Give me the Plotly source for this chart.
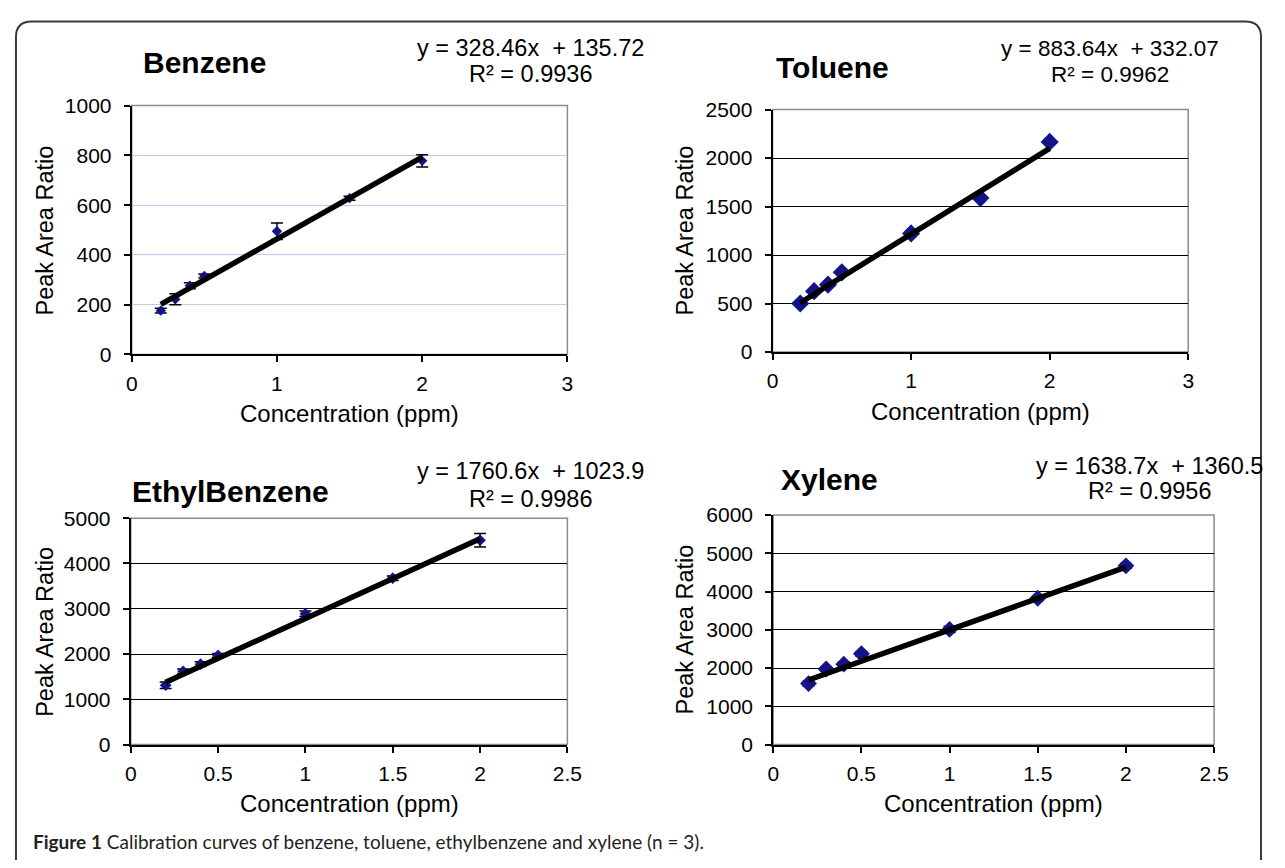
import plotly.graph_objects as go

# The page body has an 8px default margin, so the figure is drawn 8px in
# from the top-left corner; all pixel positions below are page positions.
OFF = 8
W, H = 1285 - 2 * OFF, 868 - 2 * OFF

conc = [0.2, 0.3, 0.4, 0.5, 1.0, 1.5, 2.0]

benzene = [176, 222, 276, 315, 495, 628, 778]
benzene_err = [10, 22, 12, 8, 33, 8, 25]
toluene = [501, 628, 695, 822, 1223, 1587, 2166]
toluene_err = [30, 35, 30, 30, 45, 40, 40]
ethylbenzene = [1311, 1620, 1777, 1970, 2888, 3675, 4513]
ethylbenzene_err = [70, 50, 50, 40, 60, 50, 150]
xylene = [1594, 1975, 2102, 2374, 3010, 3823, 4670]
xylene_err = [60, 60, 60, 60, 80, 60, 60]

names = ["Benzene", "Toluene", "EthylBenzene", "Xylene"]
slopes = [328.46, 883.64, 1760.6, 1638.7]
intercepts = [135.72, 332.07, 1023.9, 1360.5]
r2 = ["0.9936", "0.9962", "0.9986", "0.9956"]
eq_text = ["y = 328.46x  + 135.72", "y = 883.64x  + 332.07",
           "y = 1760.6x  + 1023.9", "y = 1638.7x  + 1360.5"]

series = [benzene, toluene, ethylbenzene, xylene]
errors = [benzene_err, toluene_err, ethylbenzene_err, xylene_err]
x_max = [3, 3, 2.5, 2.5]
x_dtick = [1, 1, 0.5, 0.5]
y_max = [1000, 2500, 5000, 6000]
y_dtick = [200, 500, 1000, 1000]

# plot areas in page pixels (left, right, top, bottom)
boxes = [(127.7, 570.7, 96, 351.7), (779.3, 1202, 100, 349.3),
         (126.7, 570.7, 520, 752.7), (780, 1228.3, 516.7, 752.7)]
grid_colors = ["#bccbea", "#000000", "#000000", "#000000"]
marker_sizes = [8, 14, 9, 13]
title_pos = [(202, 52), (840, 57), (228, 493), (837, 480)]
eq_pos = [(533, 37, 64), (1122, 37, 64), (533, 471, 500), (1163, 466, 492)]
eq_size = [23.5, 22.5, 23.5, 23.5]
ytitle_x = [40, 690, 40, 690]

FONT = "Liberation Sans, Arial, sans-serif"


def px(x):
    return (x - OFF) / W


def py(y):
    return 1 - (y - OFF) / H


fig = go.Figure()
annotations = []
shapes = []

for i in range(4):
    s = "" if i == 0 else str(i + 1)
    xa, ya = "x" + s, "y" + s
    l, r, t, b = boxes[i]
    ew = 6 if i != 1 else 4
    fig.add_trace(go.Scatter(
        x=conc, y=series[i], mode="markers", xaxis=xa, yaxis=ya,
        marker=dict(symbol="diamond", size=marker_sizes[i], color="#14148a",
                    line=dict(width=0)),
        error_y=dict(type="data", array=errors[i], visible=True,
                     color="#000000", thickness=1.5, width=ew),
        showlegend=False, hoverinfo="skip"))
    xs = [conc[0], conc[-1]]
    ys = [slopes[i] * v + intercepts[i] for v in xs]
    fig.add_trace(go.Scatter(
        x=xs, y=ys, mode="lines", xaxis=xa, yaxis=ya,
        line=dict(color="#000000", width=5.5), showlegend=False,
        hoverinfo="skip"))

    axis_font = dict(family=FONT, size=21, color="#000000")
    fig.update_layout(**{
        "xaxis" + s: dict(
            domain=[px(l), px(r)], range=[0, x_max[i]], dtick=x_dtick[i],
            anchor=ya, showgrid=False, zeroline=False, showline=True,
            linecolor="#000000", linewidth=2, ticks="outside", ticklen=6,
            tickcolor="#000000", tickwidth=1.5, tickfont=axis_font,
            ticklabelstandoff=3, fixedrange=True),
        "yaxis" + s: dict(
            domain=[py(b), py(t)], range=[0, y_max[i]], dtick=y_dtick[i],
            anchor=xa, showgrid=True, gridcolor=grid_colors[i],
            gridwidth=1.4 if i == 0 else 1.2, zeroline=False, showline=True,
            linecolor="#000000", linewidth=2, ticks="outside", ticklen=6,
            tickcolor="#000000", tickwidth=1.5, tickfont=axis_font,
            ticklabelstandoff=8, fixedrange=True),
    })
    # plot-area border (gray, top & right)
    shapes.append(dict(type="rect", xref="paper", yref="paper",
                       x0=px(l), x1=px(r), y0=py(b), y1=py(t),
                       line=dict(color="#8c8c8c", width=1.5), layer="below"))
    # chart title
    annotations.append(dict(text="<b>" + names[i] + "</b>", x=px(title_pos[i][0]),
                            y=py(title_pos[i][1]), xref="paper", yref="paper",
                            showarrow=False, xanchor="center", yanchor="middle",
                            font=dict(family=FONT, size=30, color="#000000")))
    # trendline equation and R²
    annotations.append(dict(text=eq_text[i], x=px(eq_pos[i][0]),
                            y=py(eq_pos[i][1]), xref="paper", yref="paper",
                            showarrow=False, xanchor="center", yanchor="middle",
                            font=dict(family=FONT, size=eq_size[i], color="#000000")))
    annotations.append(dict(text="R² = " + r2[i], x=px(eq_pos[i][0]),
                            y=py(eq_pos[i][2]), xref="paper", yref="paper",
                            showarrow=False, xanchor="center", yanchor="middle",
                            font=dict(family=FONT, size=eq_size[i], color="#000000")))
    # axis titles
    annotations.append(dict(text="Concentration (ppm)", x=px((l + r) / 2),
                            y=py(b + 61), xref="paper", yref="paper",
                            showarrow=False, xanchor="center", yanchor="middle",
                            font=dict(family=FONT, size=24, color="#000000")))
    annotations.append(dict(text="Peak Area Ratio", x=px(ytitle_x[i]),
                            y=py((t + b) / 2), xref="paper", yref="paper",
                            showarrow=False, xanchor="center", yanchor="middle",
                            textangle=-90,
                            font=dict(family=FONT, size=23.5, color="#000000")))

# caption
annotations.append(dict(
    text="<b>Figure 1</b> Calibration curves of benzene, toluene, ethylbenzene and xylene (n = 3).",
    x=px(25), y=py(852), xref="paper", yref="paper", showarrow=False,
    xanchor="left", yanchor="middle",
    font=dict(family="Lato, Open Sans, sans-serif", size=19, color="#231f20")))

# outer rounded frame
fl, fr, ft, fb, rr = 10, 1276, 9.5, 880, 16
path = (f"M {px(fl)},{py(fb)} L {px(fl)},{py(ft + rr)} "
        f"Q {px(fl)},{py(ft)} {px(fl + rr)},{py(ft)} "
        f"L {px(fr - rr)},{py(ft)} Q {px(fr)},{py(ft)} {px(fr)},{py(ft + rr)} "
        f"L {px(fr)},{py(fb)}")
shapes.append(dict(type="path", path=path, xref="paper", yref="paper",
                   line=dict(color="#3a3a3a", width=2)))

fig.update_layout(width=W, height=H, margin=dict(l=0, r=0, t=0, b=0),
                  paper_bgcolor="#ffffff", plot_bgcolor="#ffffff",
                  annotations=annotations, shapes=shapes, showlegend=False)

fig.write_html("out.html")
